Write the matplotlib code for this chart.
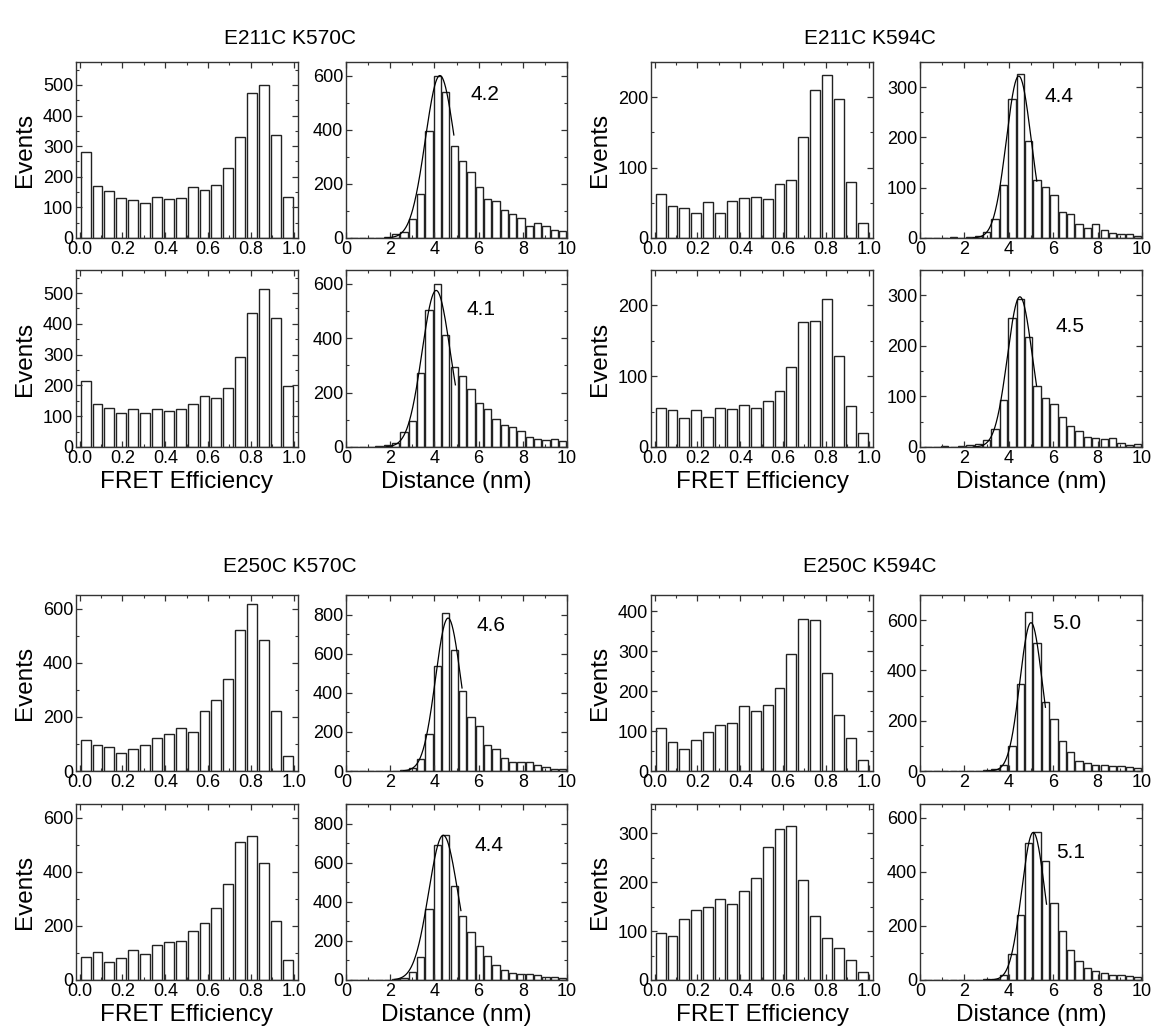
import numpy as np
import matplotlib
matplotlib.use("Agg")
import matplotlib.pyplot as plt
from matplotlib.ticker import MultipleLocator

plt.rcParams['font.family'] = ['Liberation Sans', 'DejaVu Sans']

# ---------------- data ----------------
titles = ["E211C K570C", "E211C K594C", "E250C K570C", "E250C K594C"]
fret_xlabel = "FRET Efficiency"
dist_xlabel = "Distance (nm)"
ylabel = "Events"

# FRET efficiency histograms (18 bins over 0..1)
fret_211_570_a = [280, 170, 155, 130, 125, 115, 135, 128, 130, 167, 158, 173, 228, 330, 475, 500, 335, 135]
fret_211_570_b = [215, 140, 128, 112, 122, 110, 123, 118, 124, 140, 165, 160, 193, 292, 435, 512, 420, 198]
fret_211_594_a = [62, 45, 43, 35, 51, 36, 53, 57, 58, 56, 76, 82, 143, 210, 232, 197, 79, 22]
fret_211_594_b = [55, 52, 41, 52, 43, 55, 53, 60, 55, 65, 79, 113, 176, 178, 209, 128, 58, 20]
fret_250_570_a = [113, 97, 88, 66, 82, 95, 122, 136, 157, 143, 221, 264, 340, 520, 615, 485, 222, 55]
fret_250_570_b = [85, 103, 67, 82, 110, 95, 128, 142, 143, 180, 210, 265, 355, 510, 532, 432, 217, 75]
fret_250_594_a = [108, 72, 55, 78, 97, 115, 120, 162, 150, 165, 208, 292, 380, 378, 245, 140, 83, 28]
fret_250_594_b = [97, 90, 125, 143, 150, 165, 155, 183, 208, 272, 308, 315, 205, 130, 85, 65, 40, 17]

# Distance histograms (26 bins)
dist_211_570_a = [0, 0, 1, 0, 3, 13, 23, 71, 163, 396, 600, 540, 340, 285, 245, 188, 143, 137, 102, 90, 73, 45, 55, 45, 30, 27]
dist_211_570_b = [0, 0, 0, 2, 6, 15, 55, 97, 272, 503, 600, 410, 292, 262, 212, 163, 140, 103, 82, 73, 60, 35, 30, 26, 28, 22]
dist_211_594_a = [0, 0, 0, 1, 0, 1, 4, 12, 38, 105, 277, 327, 192, 116, 101, 85, 52, 48, 27, 20, 27, 15, 10, 8, 8, 4]
dist_211_594_b = [0, 0, 1, 0, 1, 3, 6, 13, 35, 93, 255, 292, 218, 121, 96, 85, 60, 42, 31, 20, 17, 16, 17, 8, 4, 6]
dist_250_570_a = [0, 0, 0, 0, 1, 2, 5, 17, 63, 188, 537, 808, 620, 410, 278, 228, 133, 110, 68, 45, 48, 45, 30, 18, 10, 12]
dist_250_570_b = [0, 0, 0, 0, 2, 3, 12, 42, 120, 365, 692, 740, 483, 328, 243, 175, 123, 77, 50, 35, 32, 30, 25, 15, 13, 8]
dist_250_594_a = [0, 0, 0, 0, 0, 0, 1, 2, 8, 25, 100, 345, 632, 510, 275, 205, 120, 75, 40, 30, 25, 22, 20, 18, 15, 12]
dist_250_594_b = [0, 0, 0, 0, 0, 0, 1, 2, 5, 20, 95, 240, 505, 545, 440, 285, 180, 110, 70, 45, 35, 25, 20, 18, 15, 12]

# Gaussian fits: (amplitude, centre, sigma, x_start, x_end)
fit_211_570_a = (600, 4.25, 0.66, 1.8, 4.88)
fit_211_570_b = (575, 4.08, 0.64, 1.8, 4.95)
fit_211_594_a = (322, 4.45, 0.56, 2.4, 5.26)
fit_211_594_b = (297, 4.50, 0.56, 2.4, 5.25)
fit_250_570_a = (782, 4.62, 0.57, 2.6, 5.25)
fit_250_570_b = (740, 4.40, 0.66, 2.2, 5.20)
fit_250_594_a = (590, 5.00, 0.50, 3.0, 5.65)
fit_250_594_b = (545, 5.10, 0.52, 3.0, 5.70)

# Peak distance labels and their positions (x, y) in data units
peak_labels = ["4.2", "4.1", "4.4", "4.5", "4.6", "4.4", "5.0", "5.1"]
peak_label_xy = [(6.3, 530), (6.1, 505), (6.25, 282), (6.75, 238), (6.55, 742), (6.45, 690), (6.6, 585), (6.8, 470)]

# axes y limits and tick steps (major, minor)
fret_ylim = [575, 575, 250, 250, 650, 650, 440, 360]
fret_ystep = [(100, 50), (100, 50), (100, 50), (100, 50), (200, 100), (200, 100), (100, 50), (100, 50)]
dist_ylim = [650, 650, 350, 350, 900, 900, 700, 650]
dist_ystep = [(200, 100), (200, 100), (100, 50), (100, 50), (200, 100), (200, 100), (200, 100), (200, 100)]

fret_sets = [fret_211_570_a, fret_211_570_b, fret_211_594_a, fret_211_594_b,
             fret_250_570_a, fret_250_570_b, fret_250_594_a, fret_250_594_b]
dist_sets = [dist_211_570_a, dist_211_570_b, dist_211_594_a, dist_211_594_b,
             dist_250_570_a, dist_250_570_b, dist_250_594_a, dist_250_594_b]
fit_sets = [fit_211_570_a, fit_211_570_b, fit_211_594_a, fit_211_594_b,
            fit_250_570_a, fit_250_570_b, fit_250_594_a, fit_250_594_b]

# ---------------- layout ----------------
W, H = 1157, 1034
fig = plt.figure(figsize=(W / 100, H / 100), dpi=100)

def add_ax(l, t, r, b):
    return fig.add_axes([l / W, 1 - b / H, (r - l) / W, (b - t) / H])

group_x = [(76, 298, 346, 567), (651, 873, 920, 1142)]
row_y = [(62, 238), (270, 447), (595, 771), (804, 980)]
title_pos = [(290, 38), (870, 38), (290, 567), (870, 567)]

edge = '#222222'
n_fret = len(fret_211_570_a)
fret_centres = (np.arange(n_fret) + 0.5) / n_fret
n_dist = len(dist_211_570_a)
dist_centres = 0.36 + 0.378 * np.arange(n_dist)

TICK_FS = 13
LABEL_FS = 17.5

def style(ax):
    for s in ax.spines.values():
        s.set_color('#333333')
        s.set_linewidth(1.0)
    ax.tick_params(which='both', direction='in', top=True, right=True, colors='#333333',
                   labelcolor='black', labelsize=TICK_FS, pad=2)
    ax.tick_params(which='major', length=4.5, width=0.9)
    ax.tick_params(which='minor', length=2.5, width=0.8)

for g in range(4):
    gx = group_x[g % 2]
    for r in range(2):
        idx = g * 2 + r
        ry = row_y[(g // 2) * 2 + r]
        # FRET panel
        ax = add_ax(gx[0], ry[0], gx[1], ry[1])
        ax.bar(fret_centres, fret_sets[idx], width=0.046, color='white', edgecolor=edge, linewidth=1.0)
        ax.set_xlim(-0.017, 1.02)
        ax.set_ylim(0, fret_ylim[idx])
        ax.xaxis.set_major_locator(MultipleLocator(0.2))
        ax.xaxis.set_minor_locator(MultipleLocator(0.1))
        ax.yaxis.set_major_locator(MultipleLocator(fret_ystep[idx][0]))
        ax.yaxis.set_minor_locator(MultipleLocator(fret_ystep[idx][1]))
        ax.set_xticks(np.arange(0, 1.01, 0.2))
        ax.set_xticklabels(["%.1f" % v for v in np.arange(0, 1.01, 0.2)])
        ax.set_ylabel(ylabel, fontsize=LABEL_FS, labelpad=5)
        if r == 1:
            ax.set_xlabel(fret_xlabel, fontsize=LABEL_FS, labelpad=3)
        style(ax)
        # Distance panel
        ax = add_ax(gx[2], ry[0], gx[3], ry[1])
        ax.bar(dist_centres, dist_sets[idx], width=0.33, color='white', edgecolor=edge, linewidth=1.0)
        a, c, s, x0, x1 = fit_sets[idx]
        xx = np.linspace(x0, x1, 200)
        ax.plot(xx, a * np.exp(-0.5 * ((xx - c) / s) ** 2), color='black', linewidth=0.9)
        ax.text(peak_label_xy[idx][0], peak_label_xy[idx][1], peak_labels[idx],
                fontsize=15, ha='center', va='center')
        ax.set_xlim(0, 10)
        ax.set_ylim(0, dist_ylim[idx])
        ax.xaxis.set_major_locator(MultipleLocator(2))
        ax.xaxis.set_minor_locator(MultipleLocator(1))
        ax.yaxis.set_major_locator(MultipleLocator(dist_ystep[idx][0]))
        ax.yaxis.set_minor_locator(MultipleLocator(dist_ystep[idx][1]))
        if r == 1:
            ax.set_xlabel(dist_xlabel, fontsize=LABEL_FS, labelpad=3)
        style(ax)
    fig.text(title_pos[g][0] / W, 1 - title_pos[g][1] / H, titles[g], fontsize=15,
             ha='center', va='center')

fig.savefig("out.png", dpi=100)
